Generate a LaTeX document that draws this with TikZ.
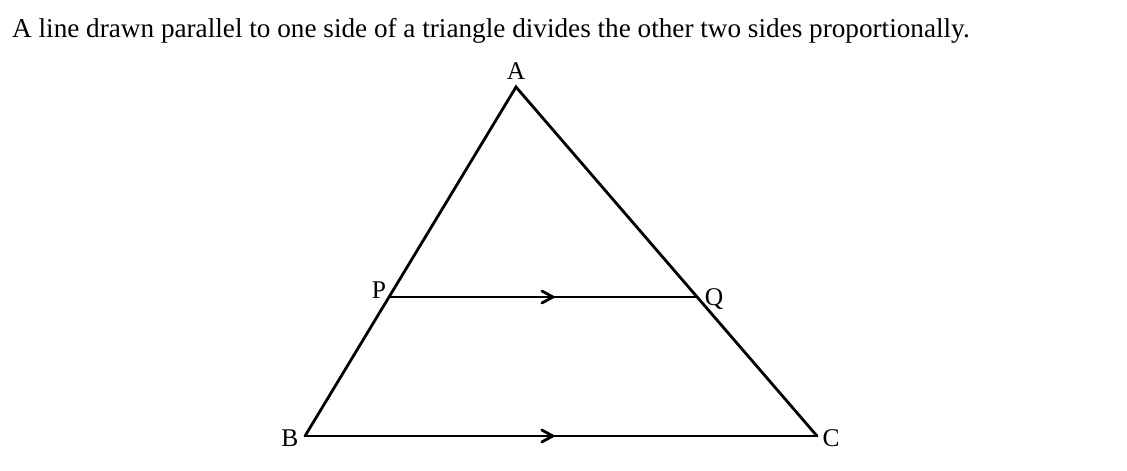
\documentclass[tikz,border=0pt]{standalone}
\usepackage{fontspec}
\setmainfont{Liberation Serif}
\usetikzlibrary{decorations.markings,calc}
\begin{document}
\begin{tikzpicture}[x=1pt,y=-1pt,
  edge/.style={line width=2.8pt, line cap=round, line join=miter},
  lbl/.style={font=\fontsize{25.5}{30}\selectfont, inner sep=0pt, anchor=base},
  chev/.style={decoration={markings, mark=at position #1 with {\draw[line width=2.8pt, line cap=round, line join=miter] (-11pt,6pt) -- (0pt,0pt) -- (-11pt,-6pt);}}, postaction=decorate}]
\useasboundingbox (0,0) rectangle (1127,471);
\node[anchor=base west, inner sep=0pt, font=\fontsize{27.2}{31}\selectfont] (title) at (12,37) {A line drawn parallel to one side of a triangle divides the other two sides proportionally.};
\coordinate (A) at (516,87);
\coordinate (B) at (305,436);
\coordinate (C) at (817,436);
\coordinate (P) at ($(A)!0.6017!(B)$);
\coordinate (Q) at ($(A)!0.6017!(C)$);
\draw[edge] (B) -- (A) -- (C);
\draw[edge] (B) -- (C);
\draw[edge, chev=0.532] (P) -- (Q);
\path[chev=0.484] (B) -- (C);
\node[lbl] (lA) at (516,79) {A};
\node[lbl] (lP) at (379,298) {P};
\node[lbl] (lQ) at (714,305) {Q};
\node[lbl] (lB) at (290,446) {B};
\node[lbl] (lC) at (831,446) {C};
\end{tikzpicture}
\end{document}
